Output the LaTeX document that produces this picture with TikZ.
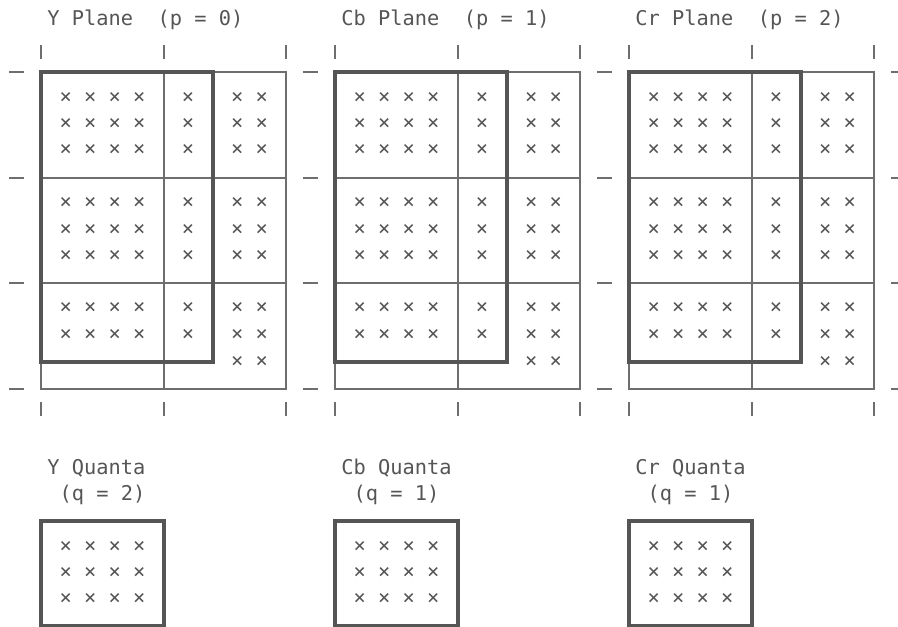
\documentclass[tikz,border=0pt]{standalone}
\usepackage{fontspec}
\setmonofont{DejaVu Sans Mono}
\definecolor{gridgray}{HTML}{6E6E6E}
\definecolor{boldgray}{HTML}{555555}
\definecolor{inkgray}{HTML}{555555}
\begin{document}
\begin{tikzpicture}[x=0.75pt, y=-0.75pt,
    gridline/.style={draw=gridgray, line width=1.1pt},
    boldline/.style={draw=boldgray, line width=2.3pt},
    tickline/.style={draw=gridgray, line width=1.1pt},
    lbl/.style={font=\ttfamily\fontsize{15.26}{19.8}\selectfont, text=inkgray,
                inner sep=0pt, anchor=base west},
    xrow/.style={font=\ttfamily\fontsize{15.26}{19.8}\selectfont, text=inkgray,
                 inner sep=0pt}
]

\useasboundingbox (0,0) rectangle (898,627);

% Left ticks of the first plane
\foreach \ty in {72,178,283,389}
  \draw[tickline] (9,\ty) -- (24,\ty);

% One plane and its quanta per column
\foreach \px/\nm/\p/\q in {41/Y/0/2, 335/Cb/1/1, 629/Cr/2/1} {
  % title
  \node[lbl] (title-\nm) at (\px+6.1,25.5) {\nm\ Plane\ \ (p = \p)};

  % ticks
  \foreach \tx in {0,123,245} {
    \draw[tickline] (\px+\tx,45) -- (\px+\tx,59);
    \draw[tickline] (\px+\tx,402) -- (\px+\tx,416);
  }
  \foreach \ty in {72,178,283,389}
    \draw[tickline] (\px+262,\ty) -- (\px+277,\ty);

  % block grid, then the bold region on top
  \draw[gridline] (\px,72) rectangle (\px+245,389);
  \draw[gridline] (\px+123,72) -- (\px+123,389);
  \draw[gridline] (\px,178) -- (\px+245,178);
  \draw[gridline] (\px,283) -- (\px+245,283);
  \draw[boldline] (\px,72) rectangle (\px+172,362);

  % samples
  \foreach \ry [count=\r] in {98,124,150,203,230,256,308,335} {
    \node[xrow] (x-\nm-\r-a) at (\px+61.5,\ry) {× × × ×};
    \node[xrow] (x-\nm-\r-b) at (\px+147,\ry) {×};
    \node[xrow] (x-\nm-\r-c) at (\px+208.5,\ry) {× ×};
  }
  \node[xrow] (x-\nm-9-c) at (\px+208.5,362) {× ×};

  % quanta
  \node[lbl] (qname-\nm) at (\px+6.1,474) {\nm\ Quanta};
  \node[lbl] (qval-\nm) at (\px+18.35,500.4) {(q = \q)};
  \draw[boldline] (\px,521) rectangle (\px+123,626);
  \foreach \ry [count=\r] in {547,573,599}
    \node[xrow] (qx-\nm-\r) at (\px+61.5,\ry) {× × × ×};
}

\end{tikzpicture}
\end{document}
